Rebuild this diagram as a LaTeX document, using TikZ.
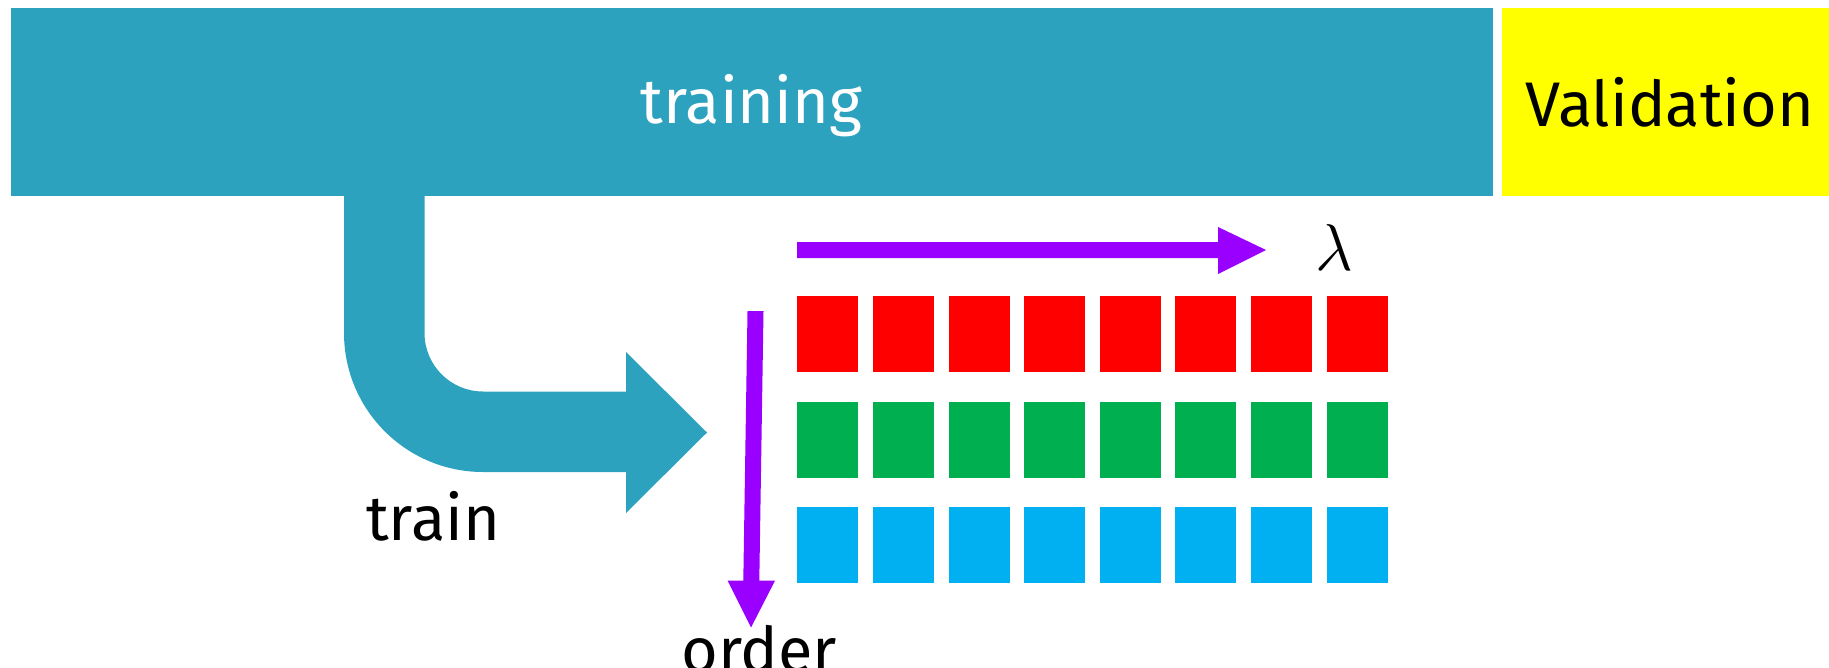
\documentclass[tikz,border=0pt]{standalone}
\usepackage{fontspec}
\setmainfont{Fira Sans}
\definecolor{tealc}{HTML}{2DA2BF}
\definecolor{purp}{HTML}{9A00FF}
\definecolor{redc}{HTML}{FF0000}
\definecolor{greenc}{HTML}{00B050}
\definecolor{bluec}{HTML}{00B0F0}
\definecolor{yel}{HTML}{FFFF00}
\begin{document}
\begin{tikzpicture}[x=0.5pt,y=-0.5pt,
  lbl/.style={inner sep=0pt, anchor=base, font=\fontsize{31.5}{36}\selectfont},
  band/.style={inner sep=0pt, anchor=north west, minimum height=94pt},
  cell/.style={inner sep=0pt, anchor=north west, minimum width=30.5pt, minimum height=38pt}]
\useasboundingbox (0,0) rectangle (1829,668);
\clip (0,0) rectangle (1829,668);
% top bands
\node[band, fill=tealc, minimum width=741.25pt] (trainband) at (10.5,8) {};
\node[band, fill=yel, minimum width=170pt] (valband) at (1502,8) {};
\node[lbl, text=white] (training) at (751.5,123.5) {training};
\node[lbl] (validation) at (1670,127) {Validation};
% bent teal arrow
\fill[tealc] (344,195) -- (344,333) arc[start angle=180, end angle=90, radius=139]
  -- (626,472) -- (626,513) -- (707,432.5) -- (626,352) -- (626,391.5) -- (483,391.5)
  arc[start angle=90, end angle=180, radius=58.5] -- (424.5,195) -- cycle;
\node[lbl] (train) at (433,540) {train};
% grid of cells
\foreach \r/\c [count=\ri from 0] in {0/redc,1/greenc,2/bluec}{
  \foreach \k in {0,...,7}{
    \node[cell, fill=\c] (cell-\r-\k) at ({797+75.6*\k},{296+105.5*\r}) {};
  }
}
% lambda arrow
\fill[purp] (797,242) -- (1218,242) -- (1218,227) -- (1266,250) -- (1218,274) -- (1218,258) -- (797,258) -- cycle;
\node[inner sep=0pt, font=\fontsize{24.88}{30}\selectfont] (lambda) at (1334,248) {\scalebox{1.33}{$\lambda$}};
% order arrow
\fill[purp] (747.5,311) -- (763.5,311) -- (759.3,580.7) -- (775,580.7) -- (751,627.5) -- (727.7,580.7) -- (743.3,580.7) -- cycle;
\node[lbl] (order) at (759,672) {order};
\end{tikzpicture}
\end{document}
